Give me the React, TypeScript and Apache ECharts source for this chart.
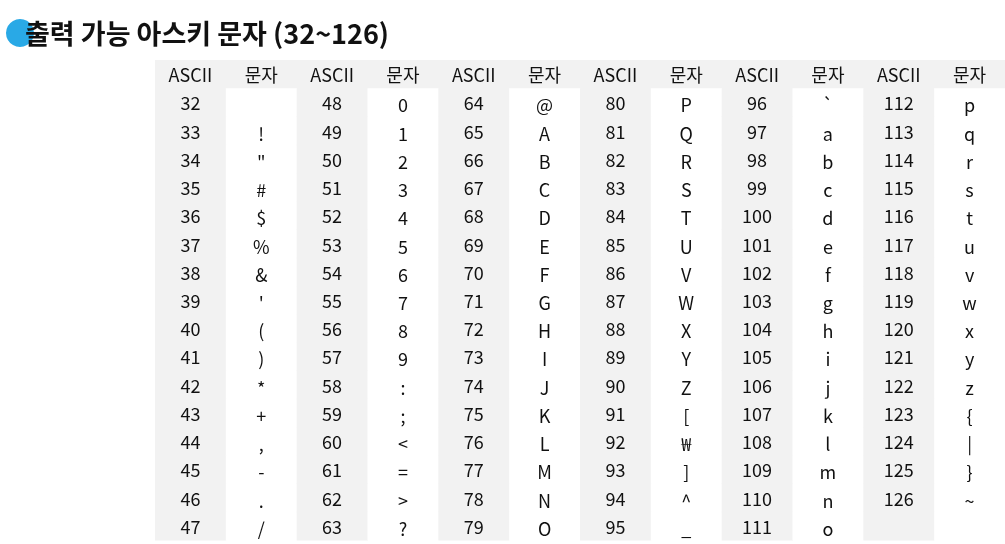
import React, { useEffect, useRef } from 'react'
import * as echarts from 'echarts'

const headers = ['ASCII', '문자', 'ASCII', '문자', 'ASCII', '문자', 'ASCII', '문자', 'ASCII', '문자', 'ASCII', '문자']

// 각 열 묶음: 코드값과 문자
const codes1 = [32, 33, 34, 35, 36, 37, 38, 39, 40, 41, 42, 43, 44, 45, 46, 47]
const chars1 = [' ', '!', '"', '#', '$', '%', '&', "'", '(', ')', '*', '+', ',', '-', '.', '/']
const codes2 = [48, 49, 50, 51, 52, 53, 54, 55, 56, 57, 58, 59, 60, 61, 62, 63]
const chars2 = ['0', '1', '2', '3', '4', '5', '6', '7', '8', '9', ':', ';', '<', '=', '>', '?']
const codes3 = [64, 65, 66, 67, 68, 69, 70, 71, 72, 73, 74, 75, 76, 77, 78, 79]
const chars3 = ['@', 'A', 'B', 'C', 'D', 'E', 'F', 'G', 'H', 'I', 'J', 'K', 'L', 'M', 'N', 'O']
const codes4 = [80, 81, 82, 83, 84, 85, 86, 87, 88, 89, 90, 91, 92, 93, 94, 95]
const chars4 = ['P', 'Q', 'R', 'S', 'T', 'U', 'V', 'W', 'X', 'Y', 'Z', '[', '₩', ']', '^', '_']
const codes5 = [96, 97, 98, 99, 100, 101, 102, 103, 104, 105, 106, 107, 108, 109, 110, 111]
const chars5 = ['`', 'a', 'b', 'c', 'd', 'e', 'f', 'g', 'h', 'i', 'j', 'k', 'l', 'm', 'n', 'o']
const codes6 = [112, 113, 114, 115, 116, 117, 118, 119, 120, 121, 122, 123, 124, 125, 126]
const chars6 = ['p', 'q', 'r', 's', 't', 'u', 'v', 'w', 'x', 'y', 'z', '{', '|', '}', '~']

const groups = [
  [codes1, chars1], [codes2, chars2], [codes3, chars3],
  [codes4, chars4], [codes5, chars5], [codes6, chars6],
]

const FONT = '"Noto Sans CJK KR", "Noto Sans", sans-serif'

const App = () => {
  const chartRef = useRef<HTMLDivElement>(null)

  useEffect(() => {
    const chart = echarts.init(chartRef.current!, null, { renderer: 'svg' })

    const cells: any[] = []
    headers.forEach((h, c) => cells.push([c, 0, h]))
    groups.forEach(([cs, chs], g) => {
      for (let r = 0; r < 16; r++) {
        cells.push([g * 2, r + 1, cs[r] !== undefined ? String(cs[r]) : ''])
        cells.push([g * 2 + 1, r + 1, chs[r] !== undefined ? String(chs[r]) : ''])
      }
    })

    chart.setOption({
      animation: false,
      title: {
        text: '출력 가능 아스키 문자 (32~126)',
        left: 20,
        top: 14,
        textStyle: { fontFamily: FONT, fontSize: 27, fontWeight: 'bold', color: '#111' },
      },
      graphic: [
        { type: 'circle', shape: { cx: 20, cy: 33, r: 14 }, style: { fill: '#29a9e6' }, z: -1 },
      ],
      grid: { left: 155, right: 0, top: 60, height: 480 },
      xAxis: { type: 'category', data: headers.map((_, i) => i), show: false },
      yAxis: { type: 'category', inverse: true, data: Array.from({ length: 17 }, (_, i) => i), show: false },
      series: [
        {
          type: 'custom',
          data: cells,
          renderItem: (params: any, api: any) => {
            const c = api.value(0)
            const r = api.value(1)
            const text = cells[params.dataIndex][2]
            const [x, y] = api.coord([c, r])
            const [w, h] = api.size([1, 1])
            const gray = r === 0 || c % 2 === 0
            return {
              type: 'group',
              children: [
                {
                  type: 'rect',
                  shape: { x: x - w / 2, y: y - h / 2, width: w + 0.5, height: h + 0.5 },
                  style: { fill: gray ? '#f2f2f2' : '#ffffff' },
                },
                {
                  type: 'text',
                  x, y: y + (r > 0 && c % 2 === 1 ? 2 : 0),
                  style: {
                    text, fill: '#111', fontSize: 18, fontFamily: FONT,
                    align: 'center', verticalAlign: 'middle',
                  },
                },
              ],
            }
          },
        },
      ],
    })

    return () => {
      chart.dispose()
    }
  }, [])

  return <div ref={chartRef} style={{ position: 'fixed', left: 0, top: 0, width: '1005px', height: '544px' }}></div>
}
export default App
